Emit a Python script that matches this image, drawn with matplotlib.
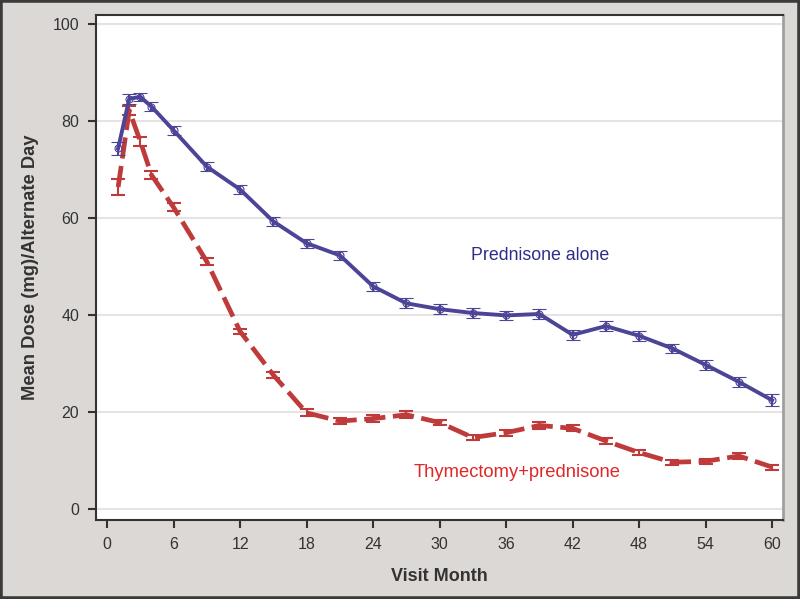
import matplotlib
matplotlib.use("Agg")
import matplotlib.pyplot as plt
from matplotlib.patches import Rectangle

# 방문 월
months = [1, 2, 3, 4, 6, 9, 12, 15, 18, 21, 24, 27, 30, 33, 36, 39, 42, 45, 48, 51, 54, 57, 60]

# Prednisone alone
pred_mean = [74.4, 84.6, 85.0, 83.0, 78.1, 70.6, 65.9, 59.3, 54.8, 52.3, 45.9, 42.4, 41.2,
             40.4, 39.9, 40.2, 35.9, 37.7, 35.7, 33.1, 29.7, 26.2, 22.4]
pred_err = [1.3, 1.0, 0.9, 0.9, 0.9, 0.9, 0.9, 0.9, 0.9, 0.9, 0.9, 1.0, 1.0,
            1.0, 1.0, 1.0, 1.0, 1.0, 1.0, 1.0, 1.0, 1.0, 1.2]

# Thymectomy+prednisone
thym_mean = [66.4, 82.2, 75.8, 68.9, 62.2, 51.0, 36.6, 27.6, 19.8, 18.1, 18.6, 19.4, 17.8,
             14.7, 15.7, 17.2, 16.6, 14.0, 11.6, 9.6, 9.8, 10.9, 8.6]
thym_err = [1.7, 1.0, 1.0, 0.9, 0.8, 0.7, 0.6, 0.6, 0.7, 0.7, 0.7, 0.7, 0.5,
            0.5, 0.6, 0.7, 0.6, 0.6, 0.5, 0.5, 0.5, 0.7, 0.5]

blue = "#4b4497"
red = "#bf3b3b"

fig = plt.figure(figsize=(8, 5.99), dpi=100, facecolor="#dcd8d6")
ax = fig.add_axes([0.12, 0.132, 0.859, 0.843])
ax.set_facecolor("white")

# 그리드
ax.set_axisbelow(True)
ax.grid(axis="y", color="#e8e2e2", linewidth=1.5)

ax.errorbar(months, thym_mean, yerr=thym_err, color=red, linewidth=3.4,
            linestyle=(0, (4.5, 1.6)), capsize=5, capthick=1.5, elinewidth=1.5,
            zorder=3)
ax.errorbar(months, pred_mean, yerr=pred_err, color=blue, linewidth=2.8,
            marker="o", markersize=5, markerfacecolor="none", markeredgewidth=0.8,
            capsize=5, capthick=1.5, elinewidth=1.5, zorder=4)

ax.text(39.1, 52.2, "Prednisone alone", color="#2f2d8a", fontsize=12.8,
        ha="center", va="center", family="Liberation Sans")
ax.text(37.0, 7.4, "Thymectomy+prednisone", color="#e02828", fontsize=13.2,
        ha="center", va="center", family="Liberation Sans")

ax.set_xlim(-1, 61)
ax.set_ylim(-2.3, 101.9)
ax.set_xticks(range(0, 61, 6))
ax.set_yticks(range(0, 101, 20))

ax.set_xlabel("Visit Month", fontsize=13, fontweight="bold", color="#333333",
              family="Liberation Sans", labelpad=12)
ax.set_ylabel("Mean Dose (mg)/Alternate Day", fontsize=13.2, fontweight="bold",
              color="#333333", family="Liberation Sans", labelpad=10)

ax.tick_params(direction="out", length=6, width=1.5, color="#333333",
               labelcolor="#333333", labelsize=11.5, pad=6)
for lab in ax.get_xticklabels() + ax.get_yticklabels():
    lab.set_family("Liberation Sans")

for s in ["left", "top", "bottom"]:
    ax.spines[s].set_color("#333333")
    ax.spines[s].set_linewidth(1.5)
ax.spines["right"].set_color("#a0a0a0")
ax.spines["right"].set_linewidth(2)

# 바깥 테두리
fig.patches.append(Rectangle((0, 0), 1, 1, transform=fig.transFigure, fill=False,
                             edgecolor="#3a3a3a", linewidth=4))

fig.savefig("out.png", dpi=100, facecolor=fig.get_facecolor())
